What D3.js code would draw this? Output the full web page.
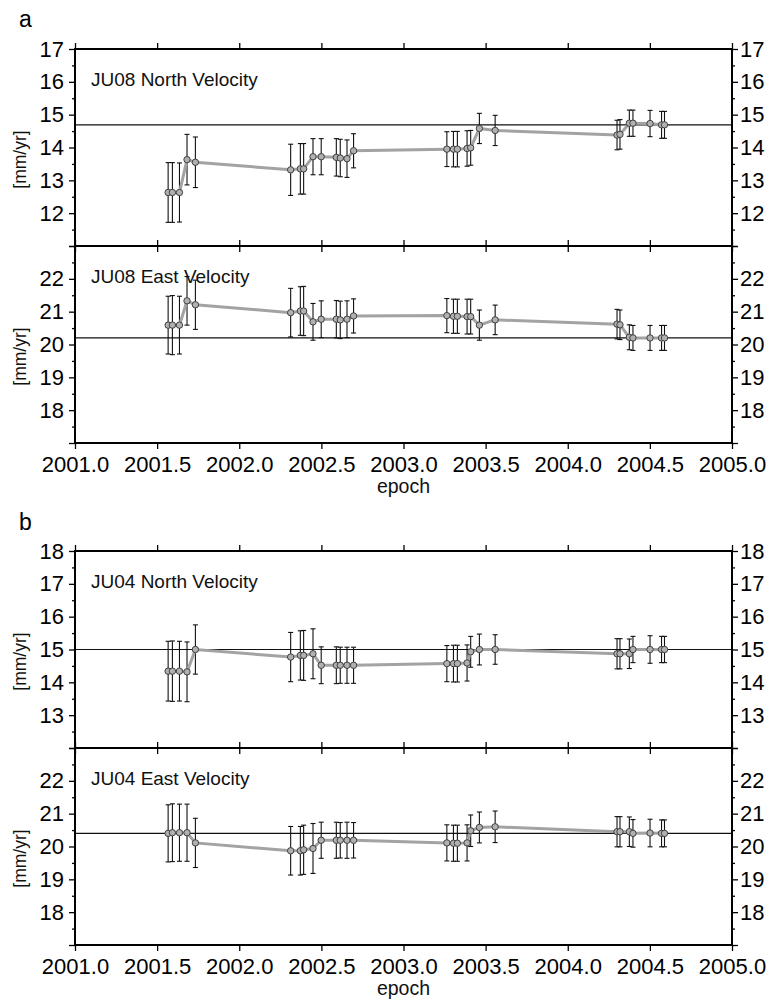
<!DOCTYPE html>
<html>
<head>
<meta charset="utf-8">
<script src="https://cdn.jsdelivr.net/npm/d3@7"></script>
<style>
  body { margin: 0; background: #fff; }
  svg { display: block; font-family: "Liberation Sans", Arial, Helvetica, sans-serif; }
</style>
</head>
<body>
<svg id="chart" width="769" height="1003"></svg>
<script>
// Campaign epochs (decimal years), shared by every panel
const epochs = [2001.567, 2001.593, 2001.636, 2001.682, 2001.733,
  2002.313, 2002.372, 2002.392, 2002.449, 2002.499, 2002.591, 2002.615, 2002.656, 2002.696,
  2003.264, 2003.304, 2003.328, 2003.387, 2003.409, 2003.462, 2003.558,
  2004.300, 2004.318, 2004.375, 2004.397, 2004.501, 2004.571, 2004.589];

// JU08 velocities [mm/yr] and 1-sigma
const ju08NorthVel = [12.63, 12.63, 12.63, 13.63, 13.55, 13.32, 13.35, 13.35, 13.72, 13.72, 13.70, 13.68, 13.66, 13.90,
  13.95, 13.95, 13.95, 13.97, 13.99, 14.58, 14.52, 14.38, 14.40, 14.74, 14.74, 14.73, 14.69, 14.69];
const ju08NorthErr = [0.91, 0.91, 0.90, 0.77, 0.77, 0.78, 0.77, 0.77, 0.55, 0.55, 0.57, 0.57, 0.57, 0.52,
  0.53, 0.54, 0.54, 0.54, 0.53, 0.46, 0.46, 0.45, 0.45, 0.40, 0.40, 0.40, 0.41, 0.41];
const ju08EastVel = [20.59, 20.59, 20.59, 21.33, 21.21, 20.97, 21.02, 21.02, 20.69, 20.77, 20.77, 20.75, 20.77, 20.87,
  20.88, 20.86, 20.86, 20.85, 20.85, 20.59, 20.75, 20.62, 20.60, 20.22, 20.20, 20.20, 20.20, 20.20];
const ju08EastErr = [0.88, 0.90, 0.88, 0.74, 0.75, 0.74, 0.74, 0.75, 0.56, 0.56, 0.57, 0.57, 0.56, 0.52,
  0.52, 0.52, 0.52, 0.53, 0.53, 0.46, 0.45, 0.45, 0.45, 0.38, 0.38, 0.38, 0.38, 0.38];

// JU04 velocities [mm/yr] and 1-sigma
const ju04NorthVel = [14.34, 14.34, 14.34, 14.32, 15.00, 14.77, 14.82, 14.82, 14.87, 14.52, 14.52, 14.52, 14.52, 14.52,
  14.57, 14.57, 14.57, 14.59, 14.93, 15.00, 15.00, 14.87, 14.87, 14.87, 15.00, 15.00, 15.00, 15.00];
const ju04NorthErr = [0.91, 0.92, 0.91, 0.91, 0.75, 0.75, 0.75, 0.76, 0.76, 0.56, 0.56, 0.55, 0.55, 0.55,
  0.55, 0.56, 0.56, 0.55, 0.47, 0.47, 0.45, 0.46, 0.46, 0.45, 0.40, 0.42, 0.40, 0.40];
const ju04EastVel = [20.40, 20.42, 20.42, 20.42, 20.11, 19.87, 19.87, 19.90, 19.94, 20.19, 20.19, 20.19, 20.19, 20.19,
  20.11, 20.10, 20.10, 20.11, 20.48, 20.58, 20.60, 20.45, 20.45, 20.45, 20.40, 20.41, 20.40, 20.40];
const ju04EastErr = [0.87, 0.88, 0.87, 0.87, 0.75, 0.74, 0.74, 0.75, 0.76, 0.55, 0.55, 0.54, 0.55, 0.54,
  0.55, 0.55, 0.55, 0.55, 0.48, 0.47, 0.48, 0.46, 0.46, 0.45, 0.42, 0.42, 0.41, 0.41];

// Mean velocity reference lines
const refLevels = [14.69, 20.20, 15.00, 20.40];

// Axes
const xTickValues = [2001.0, 2001.5, 2002.0, 2002.5, 2003.0, 2003.5, 2004.0, 2004.5, 2005.0];
const ju08NorthDomain = [11, 17], ju08NorthLabels = [12, 13, 14, 15, 16, 17];
const ju08EastDomain = [17, 23], ju08EastLabels = [18, 19, 20, 21, 22];
const ju04NorthDomain = [12, 18], ju04NorthLabels = [13, 14, 15, 16, 17, 18];
const ju04EastDomain = [17, 23], ju04EastLabels = [18, 19, 20, 21, 22];

const svg = d3.select("#chart");
const X0 = 75, X1 = 732, PH = 197;
const x = d3.scaleLinear().domain([2001, 2005]).range([X0, X1]);

function subpanel(top, domain, labels, title, vel, err, ref, withXLabels) {
  const g = svg.append("g");
  const y = d3.scaleLinear().domain(domain).range([top + PH, top]);
  const majors = d3.range(domain[0], domain[1] + 1);
  const minors = d3.range(domain[0] + 0.5, domain[1], 1);
  const fmtY = d => labels.includes(d) ? d : "";

  // reference line
  g.append("line").attr("x1", X0).attr("x2", X1)
    .attr("y1", y(ref)).attr("y2", y(ref))
    .attr("stroke", "#111").attr("stroke-width", 1.2);

  // error bars
  const eb = g.append("g").attr("stroke", "#111").attr("stroke-width", 1.1);
  epochs.forEach((e, i) => {
    const cx = x(e), lo = y(vel[i] - err[i]), hi = y(vel[i] + err[i]);
    eb.append("line").attr("x1", cx).attr("x2", cx).attr("y1", lo).attr("y2", hi);
    eb.append("line").attr("x1", cx - 2.5).attr("x2", cx + 2.5).attr("y1", lo).attr("y2", lo);
    eb.append("line").attr("x1", cx - 2.5).attr("x2", cx + 2.5).attr("y1", hi).attr("y2", hi);
  });

  // time series
  g.append("path").datum(vel)
    .attr("d", d3.line().x((_, i) => x(epochs[i])).y(d => y(d)))
    .attr("fill", "none").attr("stroke", "#a3a3a3").attr("stroke-width", 3);
  g.selectAll("circle.pt").data(vel).join("circle").attr("class", "pt")
    .attr("cx", (_, i) => x(epochs[i])).attr("cy", d => y(d)).attr("r", 3.2)
    .attr("fill", "#b0b0b0").attr("stroke", "#333").attr("stroke-width", 0.9);

  // y axes: major + minor, both sides
  const styleAxis = a => {
    a.select(".domain").remove();
    a.selectAll("line").attr("stroke", "#000").attr("stroke-width", 1.3);
    a.selectAll("text").attr("font-size", 22).attr("fill", "#000")
      .attr("font-family", "'Liberation Sans', Arial, sans-serif");
  };
  g.append("g").attr("transform", `translate(${X0},0)`)
    .call(d3.axisLeft(y).tickValues(majors).tickSize(6).tickPadding(5).tickFormat(fmtY)).call(styleAxis);
  g.append("g").attr("transform", `translate(${X0},0)`)
    .call(d3.axisLeft(y).tickValues(minors).tickSize(3).tickFormat("")).call(styleAxis);
  g.append("g").attr("transform", `translate(${X1},0)`)
    .call(d3.axisRight(y).tickValues(majors).tickSize(6).tickPadding(2).tickFormat(fmtY)).call(styleAxis);
  g.append("g").attr("transform", `translate(${X1},0)`)
    .call(d3.axisRight(y).tickValues(minors).tickSize(3).tickFormat("")).call(styleAxis);

  // x ticks top and bottom (outward)
  g.append("g").attr("transform", `translate(0,${top})`)
    .call(d3.axisTop(x).tickValues(xTickValues).tickSize(6).tickFormat("")).call(styleAxis);
  g.append("g").attr("transform", `translate(0,${top + PH})`)
    .call(d3.axisBottom(x).tickValues(xTickValues).tickSize(6).tickPadding(7)
      .tickFormat(withXLabels ? d3.format(".1f") : "")).call(styleAxis);

  // frame
  g.append("rect").attr("x", X0).attr("y", top).attr("width", X1 - X0).attr("height", PH)
    .attr("fill", "none").attr("stroke", "#000").attr("stroke-width", 2);

  // title and unit label
  g.append("text").attr("x", 91).attr("y", top + 37)
    .attr("font-size", 19).attr("fill", "#111").text(title);
  const ly = top + PH / 2 + 12;
  g.append("text").attr("transform", `translate(26,${ly}) rotate(-90)`)
    .attr("text-anchor", "middle").attr("font-size", 17.5).attr("fill", "#111").text("[mm/yr]");

  if (withXLabels) {
    g.append("text").attr("x", (X0 + X1) / 2).attr("y", top + PH + 50)
      .attr("text-anchor", "middle").attr("font-size", 19.5).attr("fill", "#111").text("epoch");
  }
}

// (a) JU08
svg.append("text").attr("x", 19).attr("y", 27).attr("font-size", 23).text("a");
subpanel(49, ju08NorthDomain, ju08NorthLabels, "JU08 North Velocity", ju08NorthVel, ju08NorthErr, refLevels[0], false);
subpanel(49 + PH, ju08EastDomain, ju08EastLabels, "JU08 East Velocity", ju08EastVel, ju08EastErr, refLevels[1], true);

// (b) JU04
svg.append("text").attr("x", 19).attr("y", 530).attr("font-size", 23).text("b");
subpanel(551, ju04NorthDomain, ju04NorthLabels, "JU04 North Velocity", ju04NorthVel, ju04NorthErr, refLevels[2], false);
subpanel(551 + PH, ju04EastDomain, ju04EastLabels, "JU04 East Velocity", ju04EastVel, ju04EastErr, refLevels[3], true);
</script>
</body>
</html>
